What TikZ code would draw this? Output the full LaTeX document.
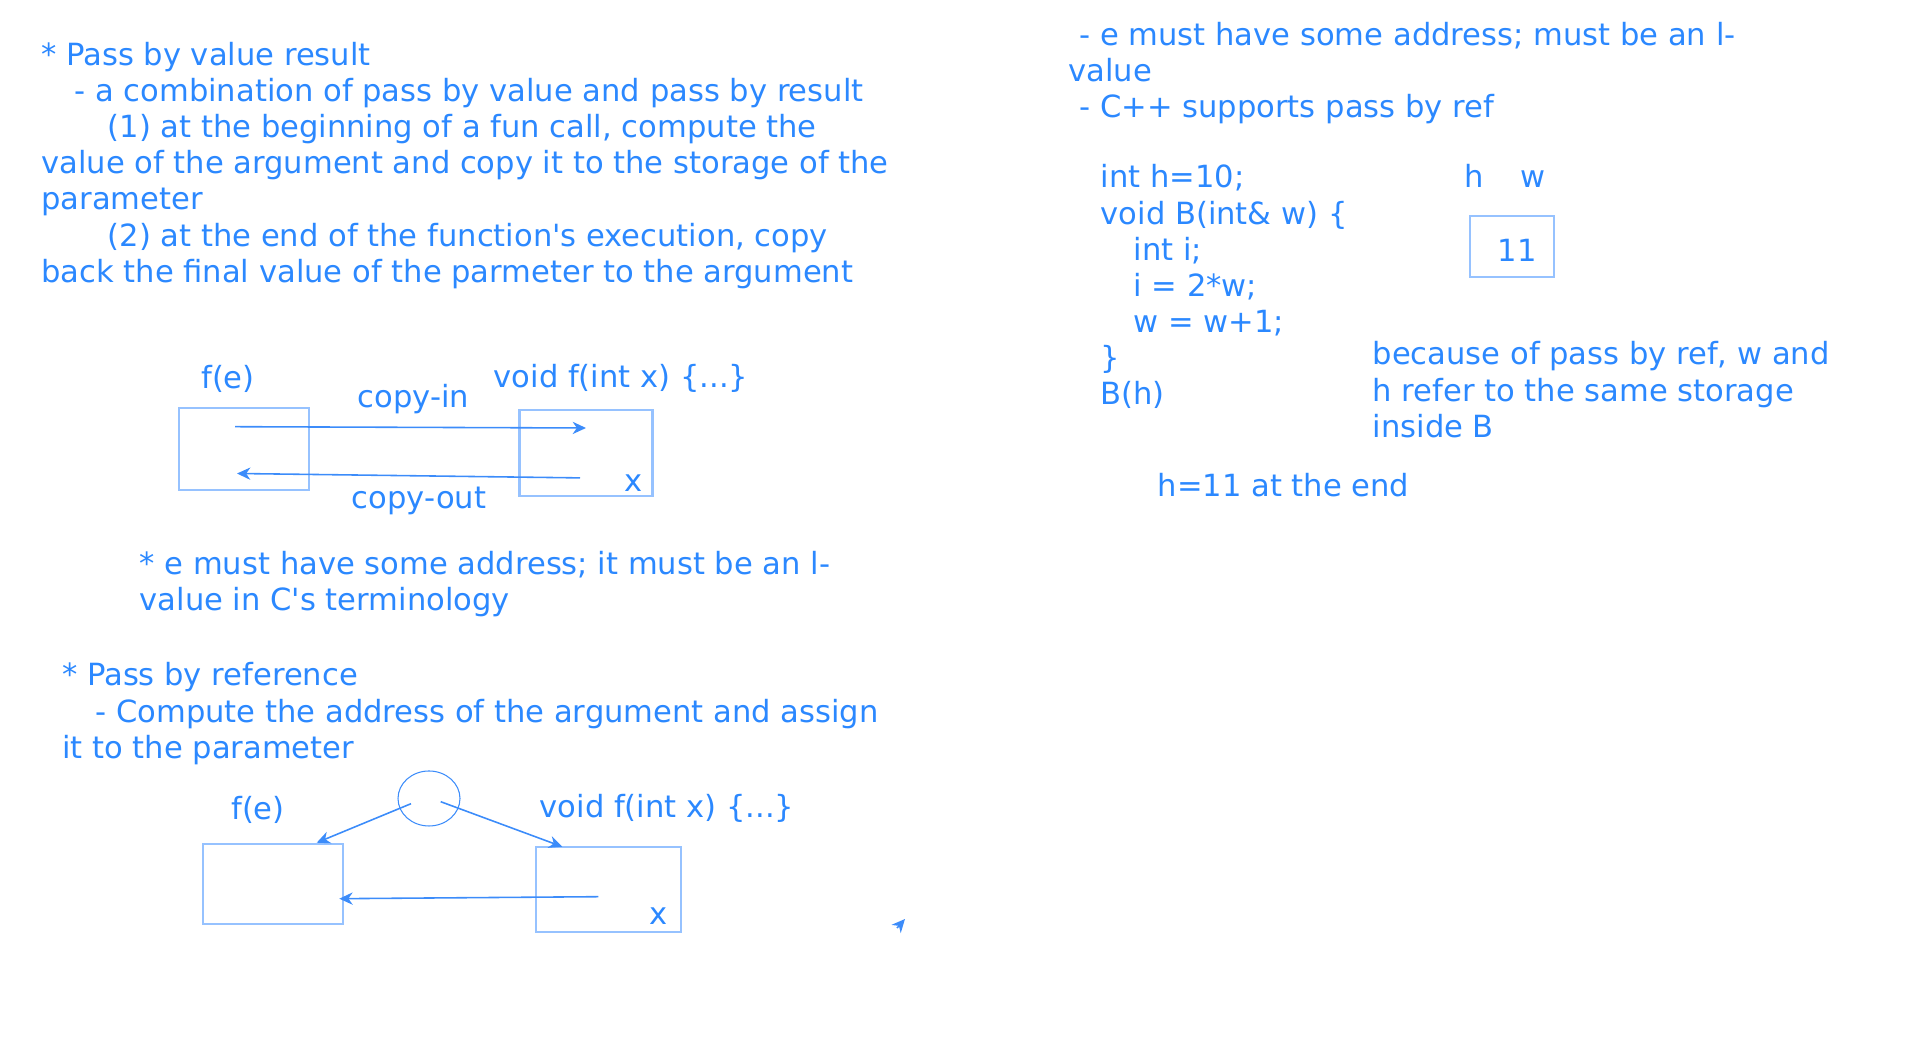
\documentclass[tikz,border=0pt]{standalone}
\usepackage{fontspec}
\setmainfont{DejaVu Sans}
\usetikzlibrary{arrows.meta,shapes.geometric}
\definecolor{inkblue}{RGB}{43,136,255}
\definecolor{boxblue}{RGB}{150,194,255}
\definecolor{arrblue}{RGB}{60,140,250}
\tikzset{txt/.style={anchor=base west,inner sep=0pt,text=inkblue,
    font=\fontsize{8.7}{10.3}\selectfont},
  lbl/.style={txt,anchor=center},
  cell/.style={draw=boxblue,line width=0.7pt,inner sep=0pt},
  arr/.style={draw=arrblue,line width=0.45pt,
    -{Stealth[length=3.8pt,width=3.5pt,inset=1.2pt]}}}
\begin{document}
\begin{tikzpicture}[x=0.1mm,y=-0.1mm]
    \useasboundingbox (0,0) rectangle (1920,1051);
    \foreach \x/\y/\t [count=\i] in {
      40.6/66/{* Pass by value result},
      73.8/102/{- a combination of pass by value and pass by result},
      107/138/{(1) at the beginning of a fun call, compute the},
      40.6/174/{value of the argument and copy it to the storage of the},
      40.6/210/{parameter},
      107/247/{(2) at the end of the function\textquotesingle s execution, copy},
      40.6/283/{back the final value of the parmeter to the argument},
      139/575/{* e must have some address; it must be an l-},
      139/611/{value in C\textquotesingle s terminology},
      61.5/686/{* Pass by reference},
      94.8/723/{- Compute the address of the argument and assign},
      61.5/759/{it to the parameter}}{
      \node[txt] (left-\i) at (\x,\y) {\t};};
    \foreach \x/\y/\t [count=\i] in {
      1078.8/46/{- e must have some address; must be an l-},
      1067.7/82/{value},
      1078.8/118/{- C++ supports pass by ref},
      1100/188/{int h=10;},
      1100/225/{void B(int\& w) \{},
      1133/261/{int i;},
      1133/297/{i = 2*w;},
      1133/333/{w = w+1;},
      1100/369/{\}},
      1100/405/{B(h)},
      1372/365/{because of pass by ref, w and},
      1372/402/{h refer to the same storage},
      1372/438/{inside B},
      1157/497/{h=11 at the end}}{
      \node[txt] (right-\i) at (\x,\y) {\t};};
    % pass by value result
    \node[cell,minimum width=13mm,minimum height=8.2mm] (argA) at (244,449) {};
    \node[cell,minimum width=13.3mm,minimum height=8.6mm] (parB) at (586,453) {};
    \node[lbl] (fA) at (228,379) {f(e)};
    \node[lbl] (defB) at (621,378) {void f(int x) \{...\}};
    \node[lbl] (cin) at (413.5,399) {copy-in};
    \node[lbl] (cout) at (419,501) {copy-out};
    \node[lbl] (xB) at (634,483) {x};
    \coordinate (inS) at (235,426.7); \coordinate (inE) at (586,428);
    \coordinate (outS) at (580,477.9); \coordinate (outE) at (237,473.5);
    \draw[arr] (inS) -- (inE); \draw[arr] (outS) -- (outE);
    % pass by reference
    \node[cell,minimum width=14mm,minimum height=8mm] (argC) at (272.9,884.2) {};
    \node[cell,minimum width=14.5mm,minimum height=8.5mm] (parD) at (608.5,889.5) {};
    \node[draw=arrblue,line width=0.3pt,ellipse,inner sep=0pt,minimum width=6.2mm,
      minimum height=5.5mm] (addr) at (429,798.5) {};
    \node[lbl] (fC) at (258,810) {f(e)};
    \node[lbl] (defD) at (667,808) {void f(int x) \{...\}};
    \node[lbl] (xD) at (659,916) {x};
    \coordinate (aL) at (411,803.7); \coordinate (aR) at (440.7,801.7);
    \coordinate (topC) at (316.7,842.7); \coordinate (topD) at (562.3,846.7);
    \coordinate (backS) at (598.3,896.7); \coordinate (backE) at (339.3,898.7);
    \draw[arr] (aL) -- (topC); \draw[arr] (aR) -- (topD);
    \draw[arr] (backS) -- (backE);
    \coordinate (strayS) at (897,928); \coordinate (strayE) at (905,919);
    \draw[arr] (strayS) -- (strayE);
    % h and w
    \node[txt,anchor=base] (hname) at (1474,188) {h};
    \node[txt,anchor=base] (wname) at (1533,188) {w};
    \node[cell,minimum width=8.4mm,minimum height=6.1mm] (hw) at (1512,246.5) {};
    \node[txt,anchor=base] (hval) at (1517,262) {11};
  \end{tikzpicture}
\end{document}
